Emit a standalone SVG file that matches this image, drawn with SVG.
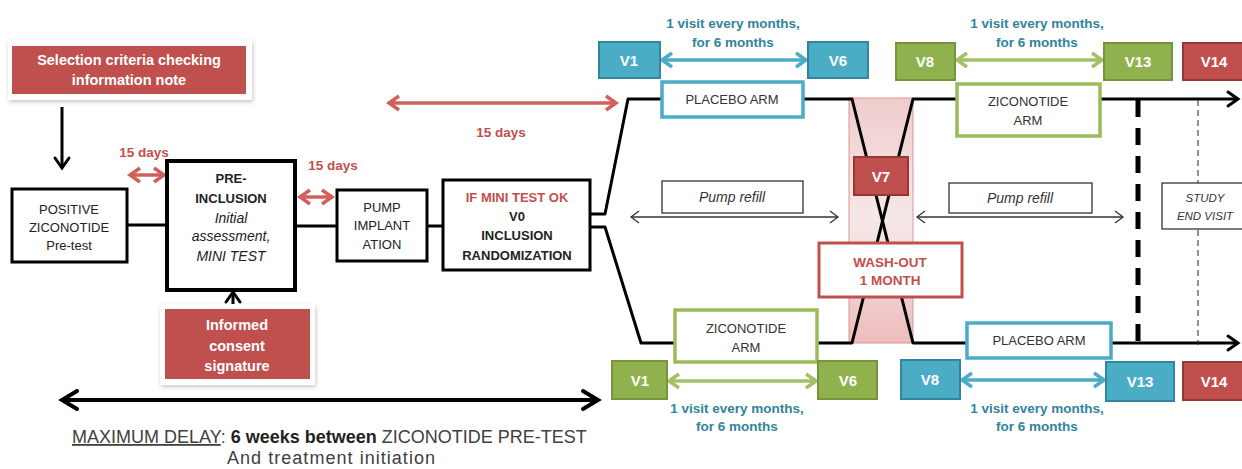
<svg xmlns="http://www.w3.org/2000/svg" width="1242" height="469" viewBox="0 0 1242 469">
  <style>
    text { font-family: "Liberation Sans", Arial, sans-serif; }
    .box { fill: #fff; stroke: #000; stroke-width: 3; }
    .boxT { font-size: 13px; fill: #222; text-anchor: middle; }
    .b { font-weight: bold; }
    .i { font-style: italic; }
    .redT { fill: #c0504d; }
    .days { font-size: 13.5px; font-weight: bold; fill: #c0504d; text-anchor: middle; }
    .note { fill: #c0504d; }
    .noteT { font-size: 14.5px; font-weight: bold; fill: #fff; text-anchor: middle; }
    .frame { fill: #fff; filter: url(#soft); }
    .armB { fill: #fff; stroke: #4bacc6; stroke-width: 3.5; }
    .armG { fill: #fff; stroke: #9bbb59; stroke-width: 3.5; }
    .armT { font-size: 13px; fill: #333; text-anchor: middle; }
    .vB { fill: #4bacc6; stroke: #31859c; stroke-width: 2; }
    .vG { fill: #8fb24e; stroke: #77933c; stroke-width: 2; }
    .vR { fill: #c0504d; stroke: #953735; stroke-width: 2; }
    .vT { font-size: 15px; font-weight: bold; fill: #fff; text-anchor: middle; }
    .freq { font-size: 13.5px; font-weight: bold; fill: #31849b; text-anchor: middle; }
    .refill { fill: #fff; stroke: #333; stroke-width: 1.3; }
    .refillT { font-size: 14px; font-style: italic; fill: #333; text-anchor: middle; }
    .flow { fill: none; stroke: #000; stroke-width: 3; stroke-linejoin: round; }
    .caption { font-size: 18px; fill: #404040; }
  </style>
  <defs>
    <filter id="soft" x="-10%" y="-20%" width="120%" height="140%">
      <feDropShadow dx="1" dy="2" stdDeviation="2" flood-color="#000" flood-opacity="0.22"/>
    </filter>
    <linearGradient id="wash" x1="0" y1="0" x2="0" y2="1">
      <stop offset="0" stop-color="#f0cccc"/>
      <stop offset="0.5" stop-color="#f6e8e8"/>
      <stop offset="1" stop-color="#eebcbc"/>
    </linearGradient>
    <marker id="mBlk" markerUnits="userSpaceOnUse" viewBox="0 0 18 20" markerWidth="18" markerHeight="20" refX="16" refY="10" orient="auto-start-reverse" overflow="visible">
      <path d="M1,1 L16,10 L1,19" fill="none" stroke="#000" stroke-width="4" stroke-linecap="round"/>
    </marker>
    <marker id="mBlkS" markerUnits="userSpaceOnUse" viewBox="0 0 12 16" markerWidth="12" markerHeight="16" refX="11" refY="8" orient="auto-start-reverse" overflow="visible">
      <path d="M1,1 L11,8 L1,15" fill="none" stroke="#000" stroke-width="3" stroke-linecap="round"/>
    </marker>
    <marker id="mThin" markerUnits="userSpaceOnUse" viewBox="0 0 10 14" markerWidth="10" markerHeight="14" refX="9" refY="7" orient="auto-start-reverse" overflow="visible">
      <path d="M1,1 L9,7 L1,13" fill="none" stroke="#333" stroke-width="1.3"/>
    </marker>
    <marker id="mRed" markerUnits="userSpaceOnUse" viewBox="0 0 12 16" markerWidth="12" markerHeight="16" refX="11" refY="8" orient="auto-start-reverse" overflow="visible">
      <path d="M1,1 L11,8 L1,15" fill="none" stroke="#d0605c" stroke-width="3.5"/>
    </marker>
    <marker id="mBlue" markerUnits="userSpaceOnUse" viewBox="0 0 12 16" markerWidth="12" markerHeight="16" refX="11" refY="8" orient="auto-start-reverse" overflow="visible">
      <path d="M1,1 L11,8 L1,15" fill="none" stroke="#4bacc6" stroke-width="3.5"/>
    </marker>
    <marker id="mGreen" markerUnits="userSpaceOnUse" viewBox="0 0 12 16" markerWidth="12" markerHeight="16" refX="11" refY="8" orient="auto-start-reverse" overflow="visible">
      <path d="M1,1 L11,8 L1,15" fill="none" stroke="#a3c166" stroke-width="3.5"/>
    </marker>
  </defs>

  <rect width="1242" height="469" fill="#fff"/>

  <!-- wash-out band behind the crossing arms -->
  <rect id="washout-band" x="849" y="98" width="64" height="245" fill="url(#wash)" stroke="#d99694" stroke-width="1"/>

  <!-- connectors -->
  <g id="connectors">
    <line x1="62" y1="107" x2="62" y2="168" class="flow" marker-end="url(#mBlkS)"/>
    <line x1="233" y1="305" x2="233" y2="292" class="flow" marker-end="url(#mBlkS)"/>
    <line x1="127" y1="225" x2="167" y2="225" class="flow"/>
    <line x1="295" y1="226" x2="337" y2="226" class="flow"/>
    <line x1="427" y1="226" x2="443" y2="226" class="flow"/>
    <!-- treatment arms, crossing over during wash-out -->
    <path class="flow" d="M590,214 H605 L628,99 H852 L913,343 H1238" marker-end="url(#mBlkS)"/>
    <path class="flow" d="M590,227 H605 L641,343 H852 L913,99 H1238" marker-end="url(#mBlkS)"/>
    <!-- end-of-study markers -->
    <line x1="1138" y1="100" x2="1138" y2="345" stroke="#000" stroke-width="5" stroke-dasharray="17 11"/>
    <line x1="1198" y1="100" x2="1198" y2="345" stroke="#222" stroke-width="1" stroke-dasharray="6 4"/>
    <!-- delays -->
    <line x1="130" y1="175" x2="164" y2="175" stroke="#d0605c" stroke-width="3.5" marker-start="url(#mRed)" marker-end="url(#mRed)"/>
    <line x1="300" y1="197" x2="332" y2="197" stroke="#d0605c" stroke-width="3.5" marker-start="url(#mRed)" marker-end="url(#mRed)"/>
    <line x1="389" y1="103" x2="616" y2="103" stroke="#d0605c" stroke-width="3.5" marker-start="url(#mRed)" marker-end="url(#mRed)"/>
    <!-- monthly visit spans -->
    <line x1="662" y1="60" x2="806" y2="60" stroke="#4bacc6" stroke-width="3.5" marker-start="url(#mBlue)" marker-end="url(#mBlue)"/>
    <line x1="957" y1="60" x2="1102" y2="60" stroke="#a3c166" stroke-width="3.5" marker-start="url(#mGreen)" marker-end="url(#mGreen)"/>
    <line x1="669" y1="381" x2="816" y2="381" stroke="#a3c166" stroke-width="3.5" marker-start="url(#mGreen)" marker-end="url(#mGreen)"/>
    <line x1="962" y1="380" x2="1104" y2="380" stroke="#4bacc6" stroke-width="3.5" marker-start="url(#mBlue)" marker-end="url(#mBlue)"/>
    <!-- pump refill periods -->
    <line x1="631" y1="217" x2="838" y2="217" stroke="#333" stroke-width="1.3" marker-start="url(#mThin)" marker-end="url(#mThin)"/>
    <line x1="917" y1="217" x2="1123" y2="217" stroke="#333" stroke-width="1.3" marker-start="url(#mThin)" marker-end="url(#mThin)"/>
    <!-- maximum delay -->
    <line x1="62" y1="400" x2="598" y2="400" stroke="#000" stroke-width="4" marker-start="url(#mBlk)" marker-end="url(#mBlk)"/>
  </g>

  <!-- delay labels -->
  <text class="days" x="144" y="157">15 days</text>
  <text class="days" x="333" y="170">15 days</text>
  <text class="days" x="501" y="137">15 days</text>

  <g id="selection-note">
    <rect class="frame" x="8" y="40" width="244" height="60"/>
    <rect class="note" x="12" y="46" width="234" height="48"/>
    <text class="noteT" x="129" y="65">Selection criteria checking</text>
    <text class="noteT" x="129" y="85">information note</text>
  </g>

  <g id="positive-pretest">
    <rect class="box" x="12" y="189" width="115" height="73"/>
    <text class="boxT" x="69" y="214">POSITIVE</text>
    <text class="boxT" x="69" y="232">ZICONOTIDE</text>
    <text class="boxT" x="69" y="250">Pre-test</text>
  </g>

  <g id="pre-inclusion">
    <rect class="box" x="167" y="161" width="128" height="129" style="stroke-width:4"/>
    <text class="boxT b" x="231" y="183">PRE-</text>
    <text class="boxT b" x="231" y="203">INCLUSION</text>
    <text class="boxT i" x="231" y="223" style="font-size:14px">Initial</text>
    <text class="boxT i" x="231" y="241" style="font-size:14px">assessment,</text>
    <text class="boxT i" x="231" y="261" style="font-size:14px">MINI TEST</text>
  </g>

  <g id="informed-consent">
    <rect class="frame" x="160" y="304" width="155" height="81"/>
    <rect class="note" x="165" y="309" width="145" height="70"/>
    <text class="noteT" x="237" y="330">Informed</text>
    <text class="noteT" x="237" y="351">consent</text>
    <text class="noteT" x="237" y="371">signature</text>
  </g>

  <g id="pump-implantation">
    <rect class="box" x="337" y="190" width="90" height="71"/>
    <text class="boxT" x="382" y="212">PUMP</text>
    <text class="boxT" x="382" y="230">IMPLANT</text>
    <text class="boxT" x="382" y="249">ATION</text>
  </g>

  <g id="inclusion-v0">
    <rect class="box" x="443" y="180" width="147" height="90"/>
    <text class="boxT b redT" x="517" y="202">IF MINI TEST OK</text>
    <text class="boxT b" x="517" y="221">V0</text>
    <text class="boxT b" x="517" y="240">INCLUSION</text>
    <text class="boxT b" x="517" y="260">RANDOMIZATION</text>
  </g>

  <!-- first period, upper arm -->
  <g id="v1-top">
    <rect class="vB" x="599" y="42" width="61" height="36"/>
    <text class="vT" x="629" y="66">V1</text>
  </g>
  <g id="v6-top">
    <rect class="vB" x="808" y="42" width="60" height="36"/>
    <text class="vT" x="838" y="66">V6</text>
  </g>
  <g id="freq-top-1">
    <text class="freq" x="733" y="28">1 visit every months,</text>
    <text class="freq" x="733" y="47">for 6 months</text>
  </g>
  <g id="placebo-arm-top">
    <rect class="armB" x="662" y="82" width="141" height="35"/>
    <text class="armT" x="732" y="104">PLACEBO ARM</text>
  </g>
  <g id="pump-refill-1">
    <rect class="refill" x="662" y="181" width="141" height="32"/>
    <text class="refillT" x="732" y="202">Pump refill</text>
  </g>

  <!-- first period, lower arm -->
  <g id="ziconotide-arm-bottom">
    <rect class="armG" x="675" y="310" width="142" height="52"/>
    <text class="armT" x="746" y="333">ZICONOTIDE</text>
    <text class="armT" x="746" y="352">ARM</text>
  </g>
  <g id="v1-bottom">
    <rect class="vG" x="612" y="361" width="55" height="38"/>
    <text class="vT" x="640" y="386">V1</text>
  </g>
  <g id="v6-bottom">
    <rect class="vG" x="818" y="361" width="59" height="38"/>
    <text class="vT" x="848" y="386">V6</text>
  </g>
  <g id="freq-bottom-1">
    <text class="freq" x="737" y="413">1 visit every months,</text>
    <text class="freq" x="737" y="431">for 6 months</text>
  </g>

  <!-- wash-out -->
  <g id="v7">
    <rect class="vR" x="854" y="157" width="54" height="38"/>
    <text class="vT" x="881" y="182">V7</text>
  </g>
  <g id="wash-out">
    <rect x="819" y="243" width="143" height="54" fill="#fff" stroke="#c0504d" stroke-width="3"/>
    <text class="boxT b redT" x="890" y="267" style="font-size:13.5px">WASH-OUT</text>
    <text class="boxT b redT" x="890" y="285" style="font-size:13.5px">1 MONTH</text>
  </g>

  <!-- second period, upper arm -->
  <g id="v8-top">
    <rect class="vG" x="896" y="43" width="59" height="37"/>
    <text class="vT" x="925" y="67">V8</text>
  </g>
  <g id="v13-top">
    <rect class="vG" x="1104" y="43" width="68" height="37"/>
    <text class="vT" x="1138" y="67">V13</text>
  </g>
  <g id="v14-top">
    <rect class="vR" x="1183" y="43" width="62" height="37"/>
    <text class="vT" x="1214" y="67">V14</text>
  </g>
  <g id="freq-top-2">
    <text class="freq" x="1037" y="28">1 visit every months,</text>
    <text class="freq" x="1037" y="47">for 6 months</text>
  </g>
  <g id="ziconotide-arm-top">
    <rect class="armG" x="957" y="84" width="143" height="52"/>
    <text class="armT" x="1028" y="106">ZICONOTIDE</text>
    <text class="armT" x="1028" y="125">ARM</text>
  </g>
  <g id="pump-refill-2">
    <rect class="refill" x="949" y="183" width="143" height="30"/>
    <text class="refillT" x="1020" y="203">Pump refill</text>
  </g>
  <g id="study-end-visit">
    <rect class="refill" x="1162" y="183" width="86" height="46"/>
    <text class="refillT" x="1205" y="202" style="font-size:11.5px">STUDY</text>
    <text class="refillT" x="1205" y="220" style="font-size:11.5px">END VISIT</text>
  </g>

  <!-- second period, lower arm -->
  <g id="placebo-arm-bottom">
    <rect class="armB" x="967" y="323" width="144" height="35"/>
    <text class="armT" x="1039" y="345">PLACEBO ARM</text>
  </g>
  <g id="v8-bottom">
    <rect class="vB" x="901" y="360" width="59" height="39"/>
    <text class="vT" x="930" y="385">V8</text>
  </g>
  <g id="v13-bottom">
    <rect class="vB" x="1106" y="362" width="68" height="39"/>
    <text class="vT" x="1140" y="387">V13</text>
  </g>
  <g id="v14-bottom">
    <rect class="vR" x="1183" y="362" width="62" height="38"/>
    <text class="vT" x="1214" y="387">V14</text>
  </g>
  <g id="freq-bottom-2">
    <text class="freq" x="1037" y="413">1 visit every months,</text>
    <text class="freq" x="1037" y="431">for 6 months</text>
  </g>

  <!-- maximum delay caption -->
  <g id="max-delay">
    <text class="caption" x="72" y="443"><tspan style="text-decoration:underline">MAXIMUM DELAY</tspan>: <tspan style="font-weight:bold; fill:#222">6 weeks between</tspan> ZICONOTIDE PRE-TEST</text>
    <text class="caption" x="227" y="464" textLength="208" lengthAdjust="spacing">And treatment initiation</text>
  </g>
</svg>
